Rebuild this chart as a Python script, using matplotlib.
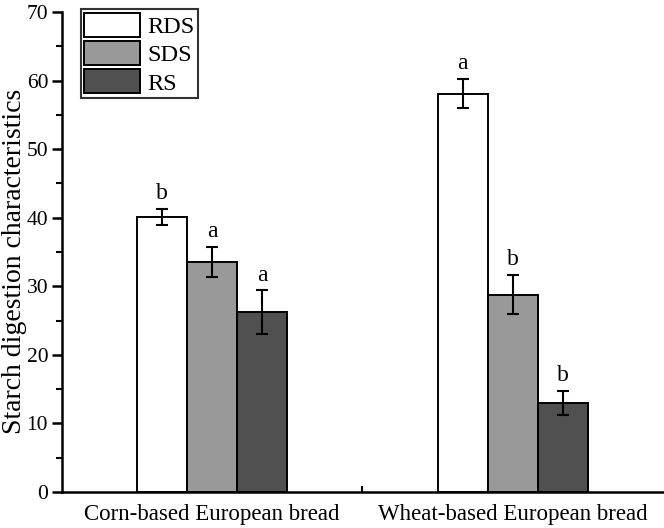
import numpy as np
import matplotlib.pyplot as plt
from matplotlib.ticker import MultipleLocator, FixedLocator

plt.rcParams['font.family'] = ['Liberation Serif', 'DejaVu Serif']

# data
groups = ['Corn-based European bread', 'Wheat-based European bread']
series = ['RDS', 'SDS', 'RS']
values = {
    'RDS': [40.1, 58.1],
    'SDS': [33.6, 28.8],
    'RS': [26.2, 13.0],
}
errors = {
    'RDS': [1.2, 2.1],
    'SDS': [2.2, 2.9],
    'RS': [3.2, 1.7],
}
letters = {
    'RDS': ['b', 'a'],
    'SDS': ['a', 'b'],
    'RS': ['a', 'b'],
}
colors = {'RDS': '#ffffff', 'SDS': '#999999', 'RS': '#505050'}

fig = plt.figure(figsize=(6.64, 5.28), dpi=100)
ax = fig.add_axes([0.0934, 0.0682, 0.905, 0.909])

x = np.array([1.0, 2.0])
w = 1 / 6
for i, s in enumerate(series):
    xs = x + (i - 1) * w
    ax.bar(xs, values[s], width=w, color=colors[s], edgecolor='black',
           linewidth=1.4, label=s, zorder=2)
    ax.errorbar(xs, values[s], yerr=errors[s], fmt='none', ecolor='black',
                elinewidth=1.5, capsize=4, capthick=1.5, zorder=3)
    for xi, v, e, t in zip(xs, values[s], errors[s], letters[s]):
        ax.text(xi, v + e + 0.7, t, ha='center', va='bottom', fontsize=17)

ax.set_xlim(0.5, 2.5)
ax.set_ylim(0, 70)
ax.xaxis.set_major_locator(FixedLocator(x))
ax.xaxis.set_minor_locator(FixedLocator([1.5]))
ax.set_xticklabels(groups)
ax.yaxis.set_major_locator(MultipleLocator(10))
ax.yaxis.set_minor_locator(MultipleLocator(5))

ax.spines['top'].set_visible(False)
ax.spines['right'].set_visible(False)
for sp in ['left', 'bottom']:
    ax.spines[sp].set_linewidth(1.8)

ax.tick_params(axis='y', which='major', direction='out', length=7, width=1.8, labelsize=15.5, pad=3)
ax.tick_params(axis='y', which='minor', direction='out', length=4, width=1.5)
ax.tick_params(axis='x', which='major', direction='in', length=4, width=1.5, labelsize=16.5, pad=9)
ax.tick_params(axis='x', which='minor', direction='in', length=4, width=1.5)

ax.set_ylabel('Starch digestion characteristics', fontsize=20)
ax.yaxis.set_label_coords(-0.058, 0.48)

leg = ax.legend(loc='upper left', bbox_to_anchor=(0.031, 1.006), fontsize=17.5,
                frameon=True, fancybox=False, edgecolor='black',
                handlelength=2.3, handleheight=1.15, labelspacing=0.12,
                borderpad=0.15, handletextpad=0.3, borderaxespad=0)
leg.get_frame().set_linewidth(1.5)

fig.savefig('out.png', dpi=100)
